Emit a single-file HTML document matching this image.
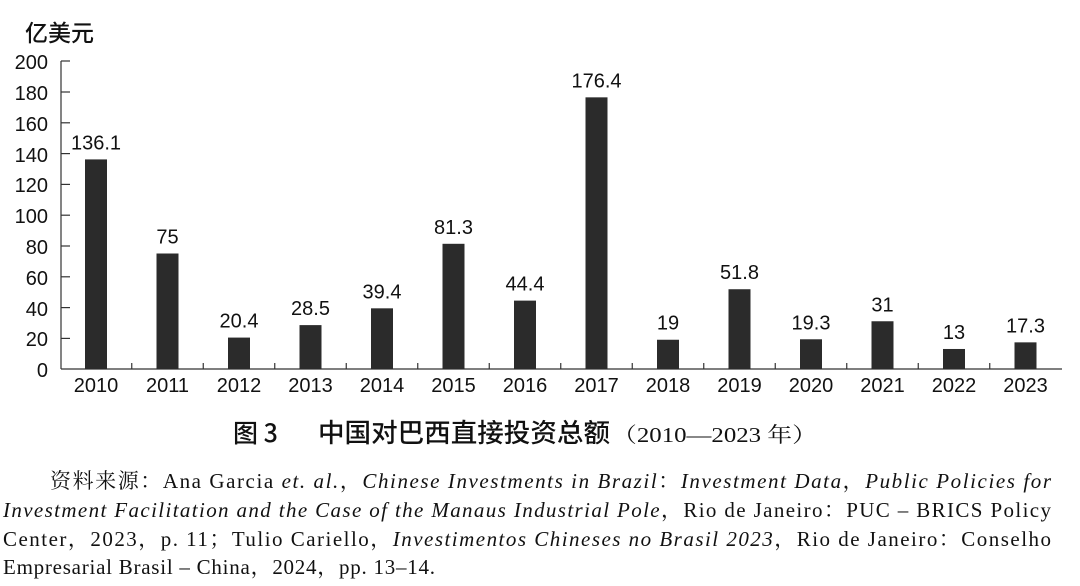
<!DOCTYPE html>
<html><head><meta charset="utf-8"><style>
body{margin:0;background:#fff;width:1080px;height:586px;overflow:hidden}
svg{display:block}
.s{font-family:"Liberation Sans","Noto Sans CJK SC",sans-serif;font-size:20px;fill:#111}
.c{font-family:"Noto Sans CJK SC","WenQuanYi Zen Hei",sans-serif;fill:#111}
.f{font-family:"Liberation Serif","Noto Serif CJK SC",serif;font-size:21px;fill:#111}
</style></head><body>
<svg width="1080" height="586" viewBox="0 0 1080 586">
<text class="c" x="25" y="41" font-size="23" font-weight="500">亿美元</text>
<g stroke="#333" stroke-width="1.2">
<line x1="61" y1="61" x2="61" y2="369"/>
<line x1="61" y1="369" x2="1062" y2="369"/>
<line x1="61" y1="61" x2="70" y2="61"/><line x1="61" y1="92" x2="70" y2="92"/><line x1="61" y1="122.8" x2="70" y2="122.8"/><line x1="61" y1="153.6" x2="70" y2="153.6"/><line x1="61" y1="184.4" x2="70" y2="184.4"/><line x1="61" y1="215.2" x2="70" y2="215.2"/><line x1="61" y1="246" x2="70" y2="246"/><line x1="61" y1="276.8" x2="70" y2="276.8"/><line x1="61" y1="307.6" x2="70" y2="307.6"/><line x1="61" y1="338.4" x2="70" y2="338.4"/>
</g>
<g class="s" text-anchor="end" font-size="22">
<text x="48" y="69">200</text><text x="48" y="100">180</text><text x="48" y="131">160</text><text x="48" y="162">140</text><text x="48" y="192">120</text><text x="48" y="223">100</text><text x="48" y="254">80</text><text x="48" y="285">60</text><text x="48" y="316">40</text><text x="48" y="346">20</text><text x="48" y="377">0</text>
</g>
<g id="bars"></g>
<text class="c" x="233" y="442" font-size="25" font-weight="500">图 3</text>
<text class="c" x="318" y="442" font-size="26" font-weight="500" textLength="292" lengthAdjust="spacingAndGlyphs">中国对巴西直接投资总额</text>
<text class="f" x="612" y="442" font-size="24" textLength="205" lengthAdjust="spacingAndGlyphs">（2010—2023 年）</text>
<text class="f" x="50" y="488" textLength="1001" lengthAdjust="spacing">资料来源：Ana Garcia <tspan font-style="italic">et. al.</tspan>，<tspan font-style="italic">Chinese Investments in Brazil</tspan>：<tspan font-style="italic">Investment Data</tspan>，<tspan font-style="italic">Public Policies for</tspan></text>
<text class="f" x="3" y="517" textLength="1048" lengthAdjust="spacing"><tspan font-style="italic">Investment Facilitation and the Case of the Manaus Industrial Pole</tspan>，Rio de Janeiro：PUC – BRICS Policy</text>
<text class="f" x="3" y="546" textLength="1048" lengthAdjust="spacing">Center，2023，p. 11；Tulio Cariello，<tspan font-style="italic">Investimentos Chineses no Brasil 2023</tspan>，Rio de Janeiro：Conselho</text>
<text class="f" x="3" y="574" textLength="432" lengthAdjust="spacing">Empresarial Brasil – China，2024，pp. 13–14.</text>
</svg>
<script>
var v=[136.1,75,20.4,28.5,39.4,81.3,44.4,176.4,19,51.8,19.3,31,13,17.3];
var g=document.getElementById('bars'),h='';
for(var i=0;i<v.length;i++){var c=96+71.5*i,t=369-v[i]*1.54;
h+='<rect x="'+(c-11)+'" y="'+t+'" width="22" height="'+(369-t)+'" fill="#2b2b2b"/>';
h+='<text class="s" text-anchor="middle" x="'+c+'" y="'+(t-10)+'" font-size="22">'+v[i]+'</text>';
h+='<text class="s" text-anchor="middle" x="'+c+'" y="392" font-size="22">'+(2010+i)+'</text>';
if(i>0)h+='<line x1="'+(c-35.75)+'" y1="369" x2="'+(c-35.75)+'" y2="363" stroke="#333" stroke-width="1.2"/>';}
g.innerHTML=h;
</script>
</body></html>
